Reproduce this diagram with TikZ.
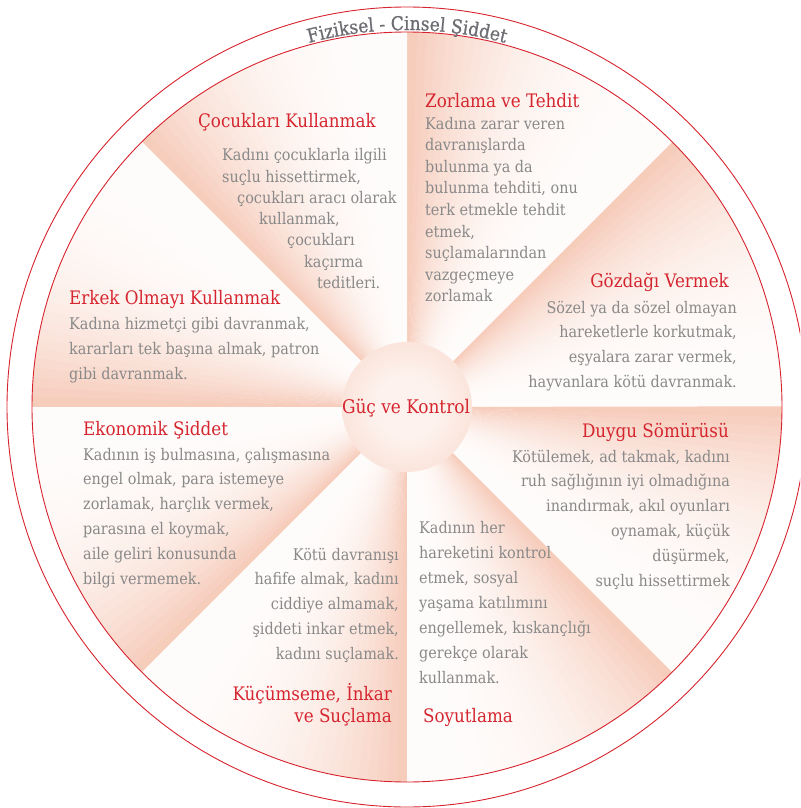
\documentclass[tikz,border=0pt]{standalone}
\usepackage{fontspec}
\usetikzlibrary{decorations.text}
\IfFontExistsTF{DejaVu Serif Condensed}{%
  \newfontfamily\wheelfont{DejaVu Serif Condensed}%
  \newfontfamily\arcfam[FakeBold=0.8]{DejaVu Serif Condensed}}{%
  \newfontfamily\wheelfont[FakeStretch=0.88]{DejaVu Serif}%
  \newfontfamily\arcfam[FakeStretch=0.88,FakeBold=0.8]{DejaVu Serif}}
\definecolor{salmon}{RGB}{246,202,184}
\definecolor{titlered}{RGB}{213,37,47}
\definecolor{bodygray}{RGB}{137,137,137}
\definecolor{arcgray}{RGB}{108,108,114}
\definecolor{ringred}{RGB}{214,35,45}
\definecolor{ballin}{RGB}{253,242,237}
\definecolor{ballout}{RGB}{247,203,186}
\newcommand\bodyf{\wheelfont\fontsize{16}{19}\selectfont}
\newcommand\titlef{\wheelfont\fontsize{18.6}{21}\selectfont}
\newcommand\arcf{\arcfam\fontsize{19}{22}\selectfont}
\pgfdeclareradialshading{ballshade}{\pgfpoint{0bp}{0bp}}{color(0bp)=(ballin); color(12bp)=(ballin); color(50bp)=(ballout)}
\tikzset{
  ttl/.style={text=titlered, font=\titlef, inner sep=0pt},
  bdy/.style={text=bodygray, font=\bodyf, inner sep=0pt},
  ring/.style={draw=ringred, line width=0.9pt},
}
\begin{document}
\begin{tikzpicture}[x=1pt,y=1pt]
\useasboundingbox (0,0) rectangle (800,-808);
\clip (0,0) rectangle (800,-808);
\coordinate (C) at (407,-407);
% sectors
\begin{scope}[shift={(407,-407)}]
\foreach \k in {0,...,7}{
  \foreach \j in {0,...,29}{
    \pgfmathsetmacro{\aa}{45*\k+1.5*\j}
    \pgfmathsetmacro{\bb}{\aa+1.6}
    \pgfmathsetmacro{\pp}{5+95*((\j+0.5)/30)^2.6}
    \fill[salmon!\pp!white] (0,0) -- (\aa:375) arc[start angle=\aa, end angle=\bb, radius=375] -- cycle;
  }
}
\end{scope}
\draw[ring] (C) circle[radius=375];
\draw[ring] (C) circle[radius=400];
\shade[shading=ballshade] (C) circle[radius=65];
\node[ttl, font=\wheelfont\fontsize{18.8}{21}\selectfont] (center) at (406,-408) {Güç ve Kontrol};
% arc label
\path[decorate, decoration={text along path, text align=center,
  text={|\arcf\color{arcgray}|F{}i{}z{}i{}k{}s{}e{}l{} - C{}i{}n{}s{}e{}l{} Ş{}i{}d{}d{}e{}t}}]
  ([shift={(127:377)}]C) arc[start angle=127, end angle=53, radius=377];
% Çocukları Kullanmak
\node[ttl, anchor=base west] (cocT) at (198,-127) {Çocukları Kullanmak};
\node[bdy, anchor=base west] (coc1) at (222,-160) {Kadını çocuklarla ilgili};
\node[bdy, anchor=base west] (coc2) at (222,-182) {suçlu hissettirmek,};
\node[bdy, anchor=base west] (coc3) at (237,-203) {çocukları aracı olarak};
\node[bdy, anchor=base west] (coc4) at (259,-224) {kullanmak,};
\node[bdy, anchor=base west] (coc5) at (287,-245) {çocukları};
\node[bdy, anchor=base west] (coc6) at (304,-267) {kaçırma};
\node[bdy, anchor=base west] (coc7) at (317,-288) {teditleri.};
% Zorlama ve Tehdit
\node[ttl, anchor=base west] (zorT) at (425,-107) {Zorlama ve Tehdit};
\foreach \t [count=\i] in {Kadına zarar veren, davranışlarda, bulunma ya da, {bulunma tehditi, onu}, terk etmekle tehdit, {etmek,}, suçlamalarından, vazgeçmeye, zorlamak}
  \node[bdy, anchor=base west] (zor\i) at (425,{-129-21.6*(\i-1)}) {\t};
% Gözdağı Vermek
\node[ttl, anchor=base east] (gozT) at (729,-287) {Gözdağı Vermek};
\foreach \t [count=\i] in {Sözel ya da sözel olmayan, {hareketlerle korkutmak,}, {eşyalara zarar vermek,}, hayvanlara kötü davranmak.}
  \node[bdy, anchor=base east] (goz\i) at (737,{-313-24.7*(\i-1)}) {\t};
% Duygu Sömürüsü
\node[ttl, anchor=base east] (duyT) at (729,-437) {Duygu Sömürüsü};
\foreach \t [count=\i] in {{Kötülemek, ad takmak, kadını}, ruh sağlığının iyi olmadığına, {inandırmak, akıl oyunları}, {oynamak, küçük}, {düşürmek,}, suçlu hissettirmek}
  \node[bdy, anchor=base east] (duy\i) at (730,{-462-24.8*(\i-1)}) {\t};
% Soyutlama
\foreach \t [count=\i] in {Kadının her, hareketini kontrol, {etmek, sosyal}, yaşama katılımını, {engellemek, kıskançlığı}, gerekçe olarak, kullanmak.}
  \node[bdy, anchor=base west] (soy\i) at (419,{-533-25*(\i-1)}) {\t};
\node[ttl, anchor=base west] (soyT) at (423,-722) {Soyutlama};
% Küçümseme, İnkar ve Suçlama
\foreach \t [count=\i] in {Kötü davranışı, {hafife almak, kadını}, {ciddiye almamak,}, {şiddeti inkar etmek,}, kadını suçlamak.}
  \node[bdy, anchor=base east] (kuc\i) at (399,{-560-24.8*(\i-1)}) {\t};
\node[ttl, anchor=base east] (kucT1) at (392,-700) {Küçümseme, İnkar};
\node[ttl, anchor=base east] (kucT2) at (392,-722) {ve Suçlama};
% Ekonomik Şiddet
\node[ttl, anchor=base west] (ekoT) at (83,-435) {Ekonomik Şiddet};
\foreach \t [count=\i] in {{Kadının iş bulmasına, çalışmasına}, {engel olmak, para istemeye}, {zorlamak, harçlık vermek,}, {parasına el koymak,}, aile geliri konusunda, bilgi vermemek.}
  \node[bdy, anchor=base west] (eko\i) at (83,{-460-24.8*(\i-1)}) {\t};
% Erkek Olmayı Kullanmak
\node[ttl, anchor=base west] (erkT) at (69,-304) {Erkek Olmayı Kullanmak};
\foreach \t [count=\i] in {{Kadına hizmetçi gibi davranmak,}, {kararları tek başına almak, patron}, gibi davranmak.}
  \node[bdy, anchor=base west] (erk\i) at (69,{-329-25*(\i-1)}) {\t};
\end{tikzpicture}
\end{document}
